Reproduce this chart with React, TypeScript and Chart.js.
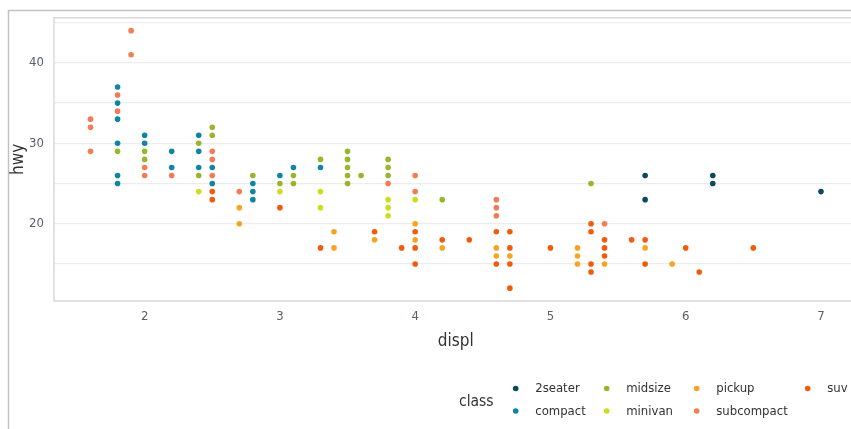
import React, { useEffect, useRef } from "react";
import { Chart, registerables } from "chart.js";

Chart.register(...registerables);

// ---- data ----
const classNames = ["2seater", "compact", "midsize", "minivan", "pickup", "subcompact", "suv"];

const twoseaterDispl = [5.7, 5.7, 6.2, 6.2, 7.0];
const twoseaterHwy = [26, 23, 26, 25, 24];

const compactDispl = [1.8, 1.8, 1.8, 1.8, 1.8, 1.8, 2.0, 2.0, 2.2, 2.2, 2.4, 2.4, 2.4, 2.5, 2.5, 2.8, 2.8, 2.8, 3.0, 3.1, 3.3];
const compactHwy = [37, 35, 33, 30, 26, 25, 31, 30, 29, 27, 31, 29, 27, 27, 25, 25, 24, 23, 26, 27, 27];

const midsizeDispl = [1.8, 2.0, 2.0, 2.4, 2.4, 2.5, 2.5, 2.8, 3.0, 3.1, 3.1, 3.3, 3.5, 3.5, 3.5, 3.5, 3.5, 3.6, 3.8, 3.8, 3.8, 4.2, 5.3];
const midsizeHwy = [29, 29, 28, 30, 26, 32, 31, 26, 25, 26, 25, 28, 29, 28, 27, 26, 25, 26, 28, 27, 26, 23, 25];

const minivanDispl = [2.4, 3.0, 3.3, 3.3, 3.8, 3.8, 3.8, 4.0];
const minivanHwy = [24, 24, 24, 22, 23, 22, 21, 23];

const pickupDispl = [2.7, 2.7, 3.4, 3.4, 3.7, 4.0, 4.0, 4.2, 4.6, 4.6, 4.7, 5.2, 5.2, 5.2, 5.4, 5.7, 5.9];
const pickupHwy = [22, 20, 19, 17, 18, 20, 18, 17, 17, 16, 16, 17, 16, 15, 15, 17, 15];

const subcompactDispl = [1.6, 1.6, 1.6, 1.8, 1.8, 1.9, 1.9, 2.0, 2.0, 2.2, 2.5, 2.5, 2.5, 2.7, 3.8, 4.0, 4.0, 4.6, 4.6, 4.6, 5.4];
const subcompactHwy = [33, 32, 29, 36, 34, 44, 41, 27, 26, 26, 29, 28, 26, 24, 25, 26, 24, 23, 22, 21, 20];

const suvDispl = [2.5, 2.5, 3.0, 3.3, 3.7, 3.9, 4.0, 4.0, 4.0, 4.2, 4.4, 4.6, 4.6, 4.7, 4.7, 4.7, 4.7, 5.0, 5.3, 5.3, 5.3, 5.3, 5.4, 5.4, 5.4, 5.6, 5.7, 5.7, 6.0, 6.1, 6.5];
const suvHwy = [24, 23, 22, 17, 19, 17, 19, 17, 15, 18, 18, 19, 15, 19, 17, 15, 12, 17, 20, 19, 15, 14, 18, 17, 16, 18, 18, 15, 17, 14, 17];

const classColors = ["#0b4a5e", "#0f84a3", "#97b62c", "#cddc1c", "#f8a322", "#f47b55", "#f25a0c"];

const xTickValues = [2, 3, 4, 5, 6, 7];
const yGridValues = [15, 20, 25, 30, 35, 40, 45];
const yLabelValues = [20, 30, 40];

const FONT = "'Liberation Sans Narrow', 'DejaVu Sans Condensed', 'Roboto Condensed', sans-serif";

function pairs(xs: number[], ys: number[]) {
  return xs.map((x, i) => ({ x, y: ys[i] }));
}

const seriesData = [
  pairs(twoseaterDispl, twoseaterHwy),
  pairs(compactDispl, compactHwy),
  pairs(midsizeDispl, midsizeHwy),
  pairs(minivanDispl, minivanHwy),
  pairs(pickupDispl, pickupHwy),
  pairs(subcompactDispl, subcompactHwy),
  pairs(suvDispl, suvHwy),
];

const framePlugin = {
  id: "frame",
  beforeDraw(chart: any) {
    const { ctx } = chart;
    ctx.save();
    ctx.fillStyle = "#ffffff";
    ctx.fillRect(0, 0, chart.width, chart.height);
    ctx.strokeStyle = "#c2c2c2";
    ctx.lineWidth = 1.5;
    ctx.strokeRect(8.5, 10.5, chart.width + 50, chart.height + 50);
    ctx.restore();
  },
  afterDraw(chart: any) {
    const { ctx, chartArea } = chart;
    ctx.save();
    ctx.strokeStyle = "#d9d9d9";
    ctx.lineWidth = 1.5;
    ctx.strokeRect(chartArea.left, chartArea.top, chartArea.right - chartArea.left, chartArea.bottom - chartArea.top);
    ctx.restore();
  },
};

const legendPlugin = {
  id: "customLegend",
  afterDraw(chart: any) {
    const { ctx } = chart;
    ctx.save();
    ctx.fillStyle = "#333333";
    ctx.font = `15.5px ${FONT}`;
    ctx.textBaseline = "middle";
    ctx.textAlign = "left";
    ctx.fillText("class", 459, 402);
    const colDot = [515.7, 606.7, 696.7, 807.7];
    const rowY = [388.5, 411];
    ctx.font = `13px ${FONT}`;
    chart.data.datasets.forEach((ds: any, i: number) => {
      const col = Math.floor(i / 2);
      const row = i % 2;
      const cx = colDot[col];
      const cy = rowY[row];
      ctx.beginPath();
      ctx.fillStyle = ds.backgroundColor;
      ctx.arc(cx, cy, 2.8, 0, Math.PI * 2);
      ctx.fill();
      ctx.fillStyle = "#333333";
      ctx.fillText(ds.label, cx + 19.5, cy + 0.5);
    });
    ctx.restore();
  },
};

export default function App() {
  const canvasRef = useRef<HTMLCanvasElement | null>(null);

  useEffect(() => {
    if (!canvasRef.current) return;
    const chart = new Chart(canvasRef.current, {
      type: "scatter",
      data: {
        datasets: classNames.map((name, i) => ({
          label: name,
          data: seriesData[i],
          backgroundColor: classColors[i],
          borderColor: classColors[i],
          borderWidth: 0,
          pointRadius: 2.8,
          pointHoverRadius: 2.8,
        })),
      },
      options: {
        responsive: false,
        animation: false,
        devicePixelRatio: 1,
        layout: { padding: { left: 0, right: 22.5, top: 16.9, bottom: 78 } },
        plugins: {
          legend: { display: false },
          tooltip: { enabled: false },
        },
        scales: {
          x: {
            type: "linear",
            min: 1.33,
            max: 7.27,
            afterBuildTicks: (axis: any) => {
              axis.ticks = xTickValues.map((v) => ({ value: v }));
            },
            afterFit: (axis: any) => {
              axis.height = 50;
            },
            grid: { display: false, drawTicks: false },
            border: { display: false },
            ticks: {
              padding: 8,
              color: "#58606a",
              font: { family: FONT, size: 13 },
              maxRotation: 0,
              autoSkip: false,
            },
            title: {
              display: true,
              text: "displ",
              color: "#333333",
              font: { family: FONT, size: 17, lineHeight: 1 },
              padding: { top: 0, bottom: 1 },
            },
          },
          y: {
            type: "linear",
            min: 10.4,
            max: 45.6,
            afterBuildTicks: (axis: any) => {
              axis.ticks = yGridValues.map((v) => ({ value: v }));
            },
            afterFit: (axis: any) => {
              axis.width = 54;
            },
            grid: { display: true, drawTicks: false, color: "#ececec", lineWidth: 1.2 },
            border: { display: false },
            ticks: {
              padding: 10,
              color: "#58606a",
              font: { family: FONT, size: 13 },
              autoSkip: false,
              callback: (value: any) => (yLabelValues.includes(Number(value)) ? String(value) : ""),
            },
            title: {
              display: true,
              text: "hwy",
              color: "#333333",
              font: { family: FONT, size: 17, lineHeight: 1 },
              padding: { top: 10, bottom: 0 },
            },
          },
        },
      },
      plugins: [framePlugin, legendPlugin],
    });
    return () => chart.destroy();
  }, []);

  return (
    <div style={{ position: "fixed", left: 0, top: 0, width: 851, height: 429, overflow: "hidden", background: "#fff" }}>
      <canvas ref={canvasRef} width={880} height={429} style={{ display: "block", width: 880, height: 429 }} />
    </div>
  );
}
